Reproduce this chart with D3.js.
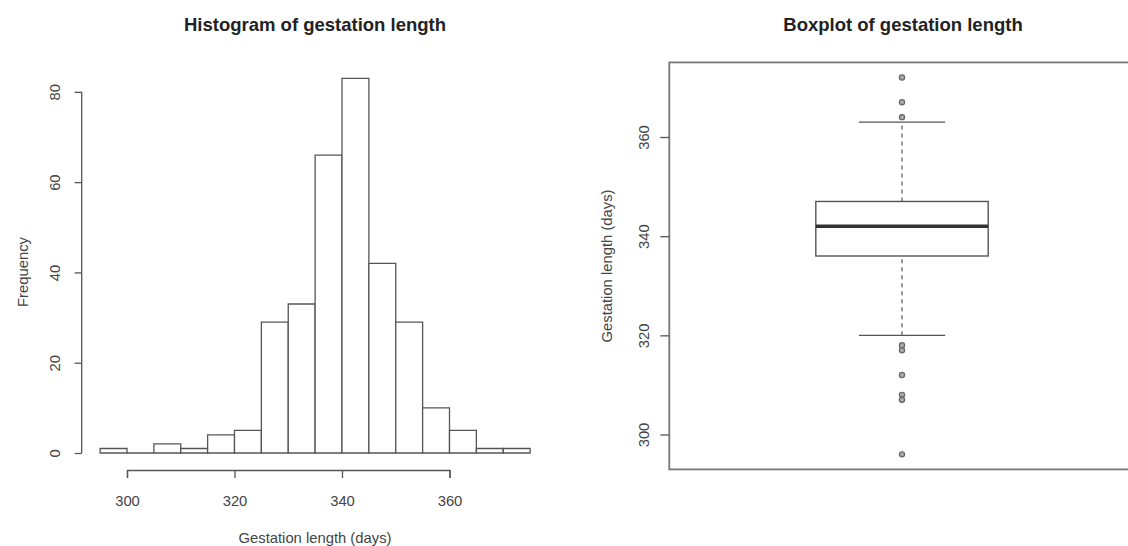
<!DOCTYPE html>
<html>
<head>
<meta charset="utf-8">
<script src="https://cdn.jsdelivr.net/npm/d3@7"></script>
<style>
  html, body { margin: 0; padding: 0; background: #fff; }
  svg { display: block; font-family: "Liberation Sans", Arial, sans-serif; }
</style>
</head>
<body>
<svg id="chart" width="1128" height="546"></svg>
<script>
// Histogram: bin edges (days) and counts per bin
const binEdges = [295, 300, 305, 310, 315, 320, 325, 330, 335, 340, 345, 350, 355, 360, 365, 370, 375];
const binCounts = [1, 0, 2, 1, 4, 5, 29, 33, 66, 83, 42, 29, 10, 5, 1, 1];
const histXTicks = [300, 320, 340, 360];
const histYTicks = [0, 20, 40, 60, 80];

// Boxplot: lower whisker, Q1, median, Q3, upper whisker, then outlying values
const boxStats = [320, 336, 342, 347, 363];
const boxOutliers = [372, 367, 364, 318, 317, 312, 308, 307, 296];
const boxYTicks = [300, 320, 340, 360];

const svg = d3.select("#chart");
const ink = "#555";
const labelFont = 14.8;
const titleFont = 18.5;
const fontStack = "Liberation Sans, Arial, sans-serif";

svg.append("rect").attr("width", 1128).attr("height", 546).attr("fill", "#fff");

// ---------- Histogram ----------
const hx = d3.scaleLinear().domain([300, 360]).range([127, 449.5]);
const hy = d3.scaleLinear().domain([0, 83]).range([453, 78.3]);

const hist = svg.append("g");
const bins = binCounts.map((c, i) => ({ x0: binEdges[i], x1: binEdges[i + 1], n: c }));

// bars as closed outlines, so an empty bin still shows along the baseline
hist.selectAll("path.bar")
  .data(bins)
  .join("path")
  .attr("class", "bar")
  .attr("d", d => {
    const p = d3.path();
    p.rect(hx(d.x0), hy(d.n), hx(d.x1) - hx(d.x0), hy(0) - hy(d.n));
    return p.toString();
  })
  .attr("fill", "#fff")
  .attr("stroke", ink)
  .attr("stroke-width", 1.3);

// x axis below the plot region
const hxAxis = hist.append("g")
  .attr("transform", "translate(0,470)")
  .call(d3.axisBottom(hx).tickValues(histXTicks).tickSizeOuter(0).tickSize(8).tickPadding(17));
hxAxis.select(".domain").attr("stroke", ink).attr("stroke-width", 1.3);
hxAxis.selectAll(".tick line").attr("stroke", ink).attr("stroke-width", 1.3);
hxAxis.selectAll(".tick text").attr("font-size", labelFont).attr("fill", "#444")
  .attr("font-family", fontStack);

// y axis left of the plot region, rotated labels
const hyAxis = hist.append("g")
  .attr("transform", "translate(81.7,0)")
  .call(d3.axisLeft(hy).tickValues(histYTicks).tickSizeOuter(0).tickSize(7));
hyAxis.select(".domain").attr("stroke", ink).attr("stroke-width", 1.3)
  .attr("d", `M0,${hy(0)}V${hy(80)}`);
hyAxis.selectAll(".tick line").attr("stroke", ink).attr("stroke-width", 1.3);
hyAxis.selectAll(".tick text")
  .attr("font-size", labelFont).attr("fill", "#444")
  .attr("font-family", fontStack)
  .attr("transform", "rotate(-90)")
  .attr("text-anchor", "middle")
  .attr("x", 0).attr("y", -26.5).attr("dy", "0.35em");

hist.append("text")
  .attr("x", 315).attr("y", 31)
  .attr("text-anchor", "middle")
  .attr("font-size", titleFont).attr("font-weight", "bold").attr("fill", "#222")
  .text("Histogram of gestation length");

hist.append("text")
  .attr("x", 315).attr("y", 543)
  .attr("text-anchor", "middle")
  .attr("font-size", labelFont).attr("fill", "#444")
  .text("Gestation length (days)");

hist.append("text")
  .attr("transform", "translate(23,272) rotate(-90)")
  .attr("text-anchor", "middle").attr("dy", "0.35em")
  .attr("font-size", labelFont).attr("fill", "#444")
  .text("Frequency");

// ---------- Boxplot ----------
const bx = d3.scaleLinear().domain([0.46, 1.54]).range([669.3, 1134.7]);
const by = d3.scaleLinear().domain([300, 360]).range([434.5, 137]);
const yLo = 292.96, yHi = 375.04;

const box = svg.append("g");

// plot frame
box.append("rect")
  .attr("x", bx(0.46)).attr("y", by(yHi))
  .attr("width", bx(1.54) - bx(0.46)).attr("height", by(yLo) - by(yHi))
  .attr("fill", "none").attr("stroke", "#777").attr("stroke-width", 1.8);

const [wLo, q1, med, q3, wHi] = boxStats;

// dashed whiskers
box.selectAll("line.whisker")
  .data([[wLo, q1], [q3, wHi]])
  .join("line")
  .attr("class", "whisker")
  .attr("x1", bx(1)).attr("x2", bx(1))
  .attr("y1", d => by(d[0])).attr("y2", d => by(d[1]))
  .attr("stroke", ink).attr("stroke-width", 1.2)
  .attr("stroke-dasharray", "4,4");

// staples
box.selectAll("line.staple")
  .data([wLo, wHi])
  .join("line")
  .attr("class", "staple")
  .attr("x1", bx(0.9)).attr("x2", bx(1.1))
  .attr("y1", d => by(d)).attr("y2", d => by(d))
  .attr("stroke", ink).attr("stroke-width", 1.3);

// box
box.append("rect")
  .attr("x", bx(0.8)).attr("width", bx(1.2) - bx(0.8))
  .attr("y", by(q3)).attr("height", by(q1) - by(q3))
  .attr("fill", "#fff").attr("stroke", ink).attr("stroke-width", 1.4);

// median
box.append("line")
  .attr("x1", bx(0.8)).attr("x2", bx(1.2))
  .attr("y1", by(med)).attr("y2", by(med))
  .attr("stroke", "#333").attr("stroke-width", 3.6);

// outliers
box.selectAll("circle.out")
  .data(boxOutliers)
  .join("circle")
  .attr("class", "out")
  .attr("cx", bx(1)).attr("cy", d => by(d))
  .attr("r", 2.6)
  .attr("fill", "#aaa").attr("stroke", "#666").attr("stroke-width", 1.2);

// y axis
const byAxis = box.append("g")
  .attr("transform", `translate(${bx(0.46)},0)`)
  .call(d3.axisLeft(by).tickValues(boxYTicks).tickSizeOuter(0).tickSize(9));
byAxis.select(".domain").remove();
byAxis.selectAll(".tick line").attr("stroke", ink).attr("stroke-width", 1.3);
byAxis.selectAll(".tick text")
  .attr("font-size", labelFont).attr("fill", "#444")
  .attr("font-family", fontStack)
  .attr("transform", "rotate(-90)")
  .attr("text-anchor", "middle")
  .attr("x", 0).attr("y", -25).attr("dy", "0.35em");

box.append("text")
  .attr("x", 903).attr("y", 31)
  .attr("text-anchor", "middle")
  .attr("font-size", titleFont).attr("font-weight", "bold").attr("fill", "#222")
  .text("Boxplot of gestation length");

box.append("text")
  .attr("transform", "translate(607,266) rotate(-90)")
  .attr("text-anchor", "middle").attr("dy", "0.35em")
  .attr("font-size", labelFont).attr("fill", "#444")
  .text("Gestation length (days)");
</script>
</body>
</html>
